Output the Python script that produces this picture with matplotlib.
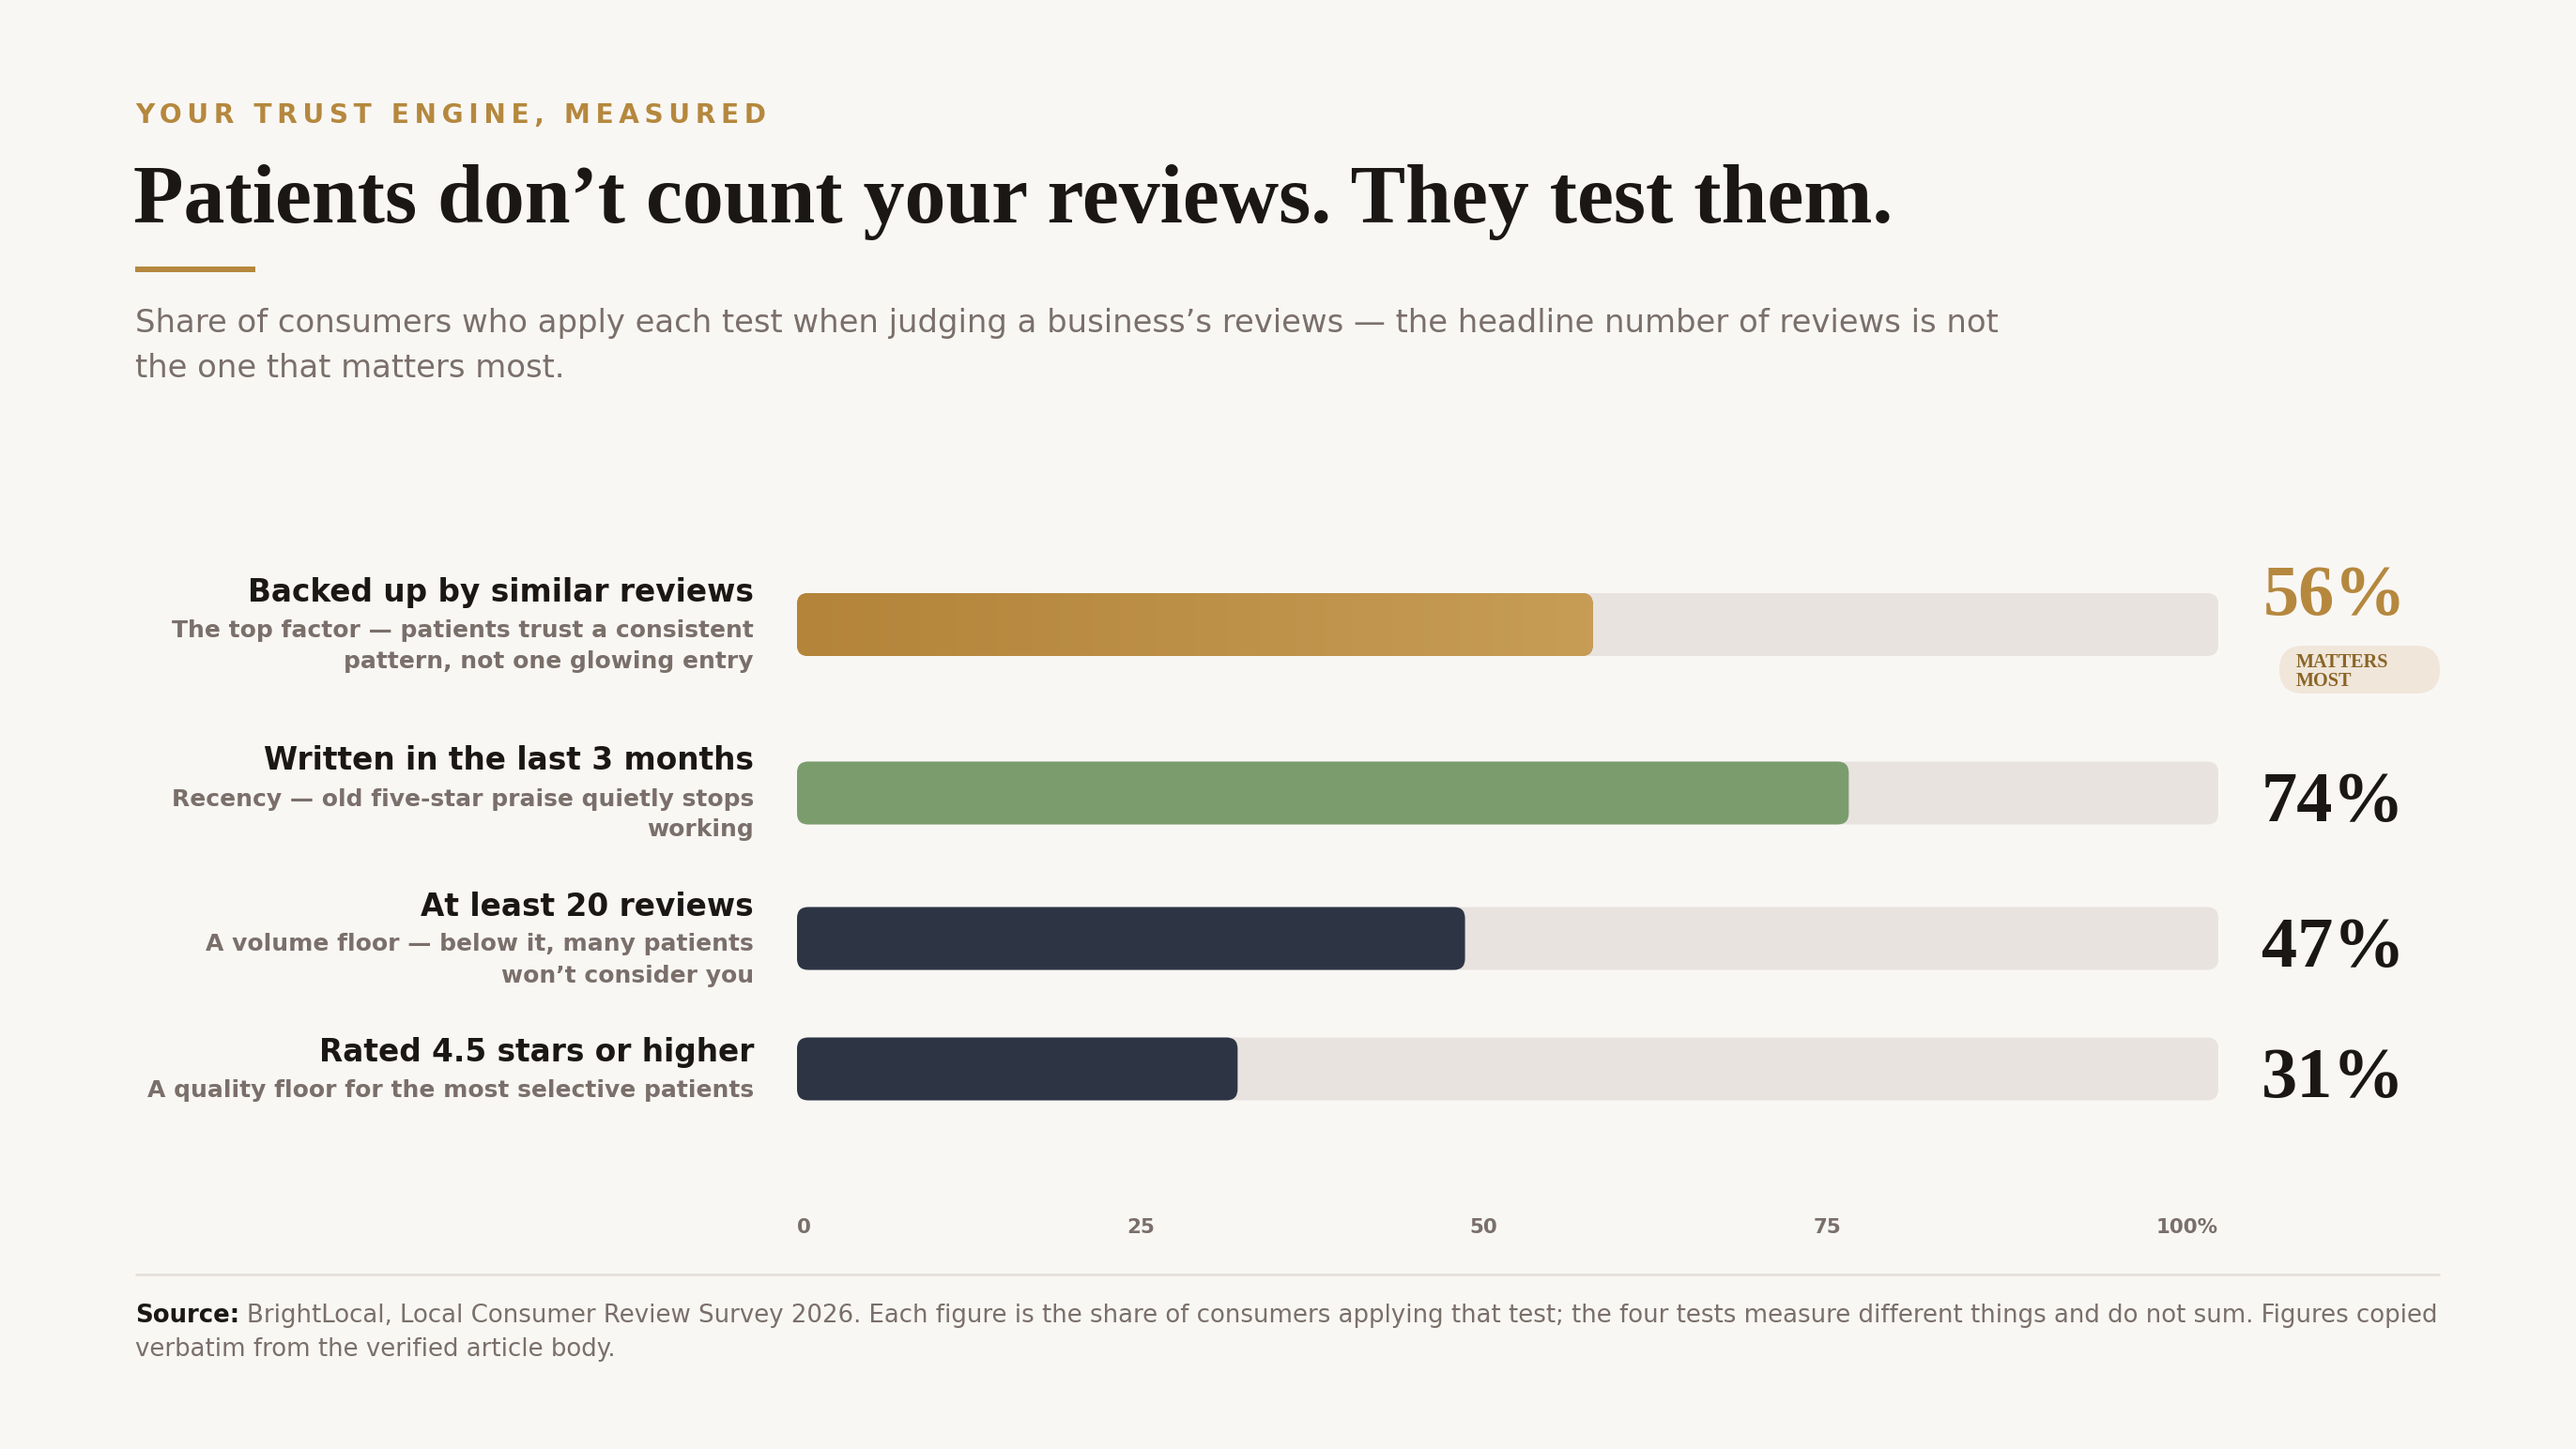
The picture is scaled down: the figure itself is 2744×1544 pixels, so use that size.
import matplotlib
matplotlib.use("Agg")
import matplotlib.pyplot as plt
import numpy as np
from matplotlib.patches import FancyBboxPatch, Rectangle
from matplotlib.colors import LinearSegmentedColormap

# data
labels = ["Backed up by similar reviews",
          "Written in the last 3 months",
          "At least 20 reviews",
          "Rated 4.5 stars or higher"]
sublabels = [["The top factor \u2014 patients trust a consistent", "pattern, not one glowing entry"],
             ["Recency \u2014 old five-star praise quietly stops", "working"],
             ["A volume floor \u2014 below it, many patients", "won\u2019t consider you"],
             ["A quality floor for the most selective patients"]]
values = [56, 74, 47, 31]
tick_vals = [0, 25, 50, 75, 100]
tick_labels = ["0", "25", "50", "75", "100%"]

# style
W, H = 2744, 1544
DPI = 200
bg = "#f9f7f4"
gold = "#b5883e"
dark = "#1a1715"
gray = "#7a6f6a"
track = "#e8e3df"
bar_colors = ["gold", "#7b9d6e", "#2d3545", "#2d3545"]
serif = ["Liberation Serif", "DejaVu Serif"]
sans = ["DejaVu Sans"]

# layout (pixels, top-down)
left = 144
right = 2599
track_x0, track_x1 = 849, 2363
row_centers = [665.5, 845, 1000, 1139]
bar_h = 67
radius = 12

fig = plt.figure(figsize=(W / DPI, H / DPI), dpi=DPI, facecolor=bg)

# layout axes in pixel coordinates
lay = fig.add_axes([0, 0, 1, 1])
lay.set_xlim(0, W)
lay.set_ylim(H, 0)
lay.axis("off")
lay.set_facecolor(bg)

# header
eyebrow = "YOUR TRUST ENGINE, MEASURED"
lay.text(left, 131, "\u2009".join(eyebrow), color=gold, fontsize=10.1,
         fontweight="bold", family=sans, va="baseline", ha="left")
lay.text(left - 2, 237, "Patients don\u2019t count your reviews. They test them.",
         color=dark, fontsize=31.6, fontweight="bold", family=serif,
         va="baseline", ha="left")
lay.add_patch(Rectangle((left, 284), 128, 6, color=gold, lw=0))
lay.text(left, 354, "Share of consumers who apply each test when judging a business\u2019s reviews \u2014 the headline number of reviews is not",
         color=gray, fontsize=12.2, family=sans, va="baseline", ha="left")
lay.text(left, 402, "the one that matters most.",
         color=gray, fontsize=12.2, family=sans, va="baseline", ha="left")

# bars axes: x in percent, y in pixels
ax = fig.add_axes([track_x0 / W, 0, (track_x1 - track_x0) / W, 1])
ax.set_xlim(0, 100)
ax.set_ylim(H, 0)
ax.axis("off")
ax.patch.set_alpha(0)

xpx = (track_x1 - track_x0) / 100.0
r_x = radius / xpx
aspect = radius / r_x

gold_cmap = LinearSegmentedColormap.from_list("g", ["#b3843a", "#c79c55"])

for i, (lab, subs, v, c) in enumerate(zip(labels, sublabels, values, bar_colors)):
    cy = row_centers[i]
    top = cy - bar_h / 2
    bg_bar = FancyBboxPatch((0, top), 100, bar_h,
                            boxstyle="round,pad=0,rounding_size=%f" % r_x,
                            mutation_aspect=aspect, fc=track, ec="none", zorder=1)
    ax.add_patch(bg_bar)
    fg_bar = FancyBboxPatch((0, top), v, bar_h,
                            boxstyle="round,pad=0,rounding_size=%f" % r_x,
                            mutation_aspect=aspect,
                            fc=(gold if c == "gold" else c), ec="none", zorder=2)
    ax.add_patch(fg_bar)
    if c == "gold":
        grad = np.linspace(0, 1, 256).reshape(1, -1)
        im = ax.imshow(grad, extent=(0, v, top + bar_h, top), aspect="auto",
                       cmap=gold_cmap, zorder=3, interpolation="bilinear")
        im.set_clip_path(fg_bar)

    # row labels
    n = len(subs)
    lab_y = cy - 8 - 16.5 * (n - 1)
    lay.text(track_x0 - 46, lab_y, lab, color=dark, fontsize=11.8, fontweight="bold",
             family=sans, ha="right", va="baseline")
    for k, s in enumerate(subs):
        lay.text(track_x0 - 46, lab_y + 38 + 33 * k, s, color=gray, fontsize=9.0,
                 fontweight="bold", family=sans, ha="right", va="baseline")

    # value labels
    if i == 0:
        lay.text(2411, cy - 10.5, "%d%%" % v, color=gold, fontsize=27.5,
                 fontweight="bold", family=serif, ha="left", va="baseline")
        lay.add_patch(FancyBboxPatch((2428, cy + 22.5), 171, 51,
                                     boxstyle="round,pad=0,rounding_size=25.5",
                                     fc="#f0e6da", ec="none"))
        lay.text(2446, cy + 45.5, "MATTERS", color="#8a6526", fontsize=7.3,
                 fontweight="bold", family=serif, ha="left", va="baseline")
        lay.text(2446, cy + 65.5, "MOST", color="#8a6526", fontsize=7.3,
                 fontweight="bold", family=serif, ha="left", va="baseline")
    else:
        lay.text(2409, cy + 30, "%d%%" % v, color=dark, fontsize=27.5,
                 fontweight="bold", family=serif, ha="left", va="baseline")

ax.set_xlim(0, 100)
ax.set_ylim(H, 0)

# tick labels spread like space-between across the track
renderer = fig.canvas.get_renderer()
tick_texts = [ax.text(t, 1314, s, color=gray, fontsize=7.7, fontweight="bold",
                      family=sans, ha="left", va="baseline")
              for t, s in zip(tick_vals, tick_labels)]
widths = [tt.get_window_extent(renderer).width for tt in tick_texts]
gap = ((track_x1 - track_x0) - sum(widths)) / (len(widths) - 1)
pos = 0.0
for tt, w in zip(tick_texts, widths):
    tt.set_x(pos / xpx)
    pos += w + gap

# divider and source
lay.plot([left, right], [1357.5, 1357.5], color="#e6e0db", lw=1.0, solid_capstyle="butt")
src = lay.text(left, 1409, "Source:", color=dark, fontsize=9.35, fontweight="bold",
               family=sans, ha="left", va="baseline")
sw = src.get_window_extent(renderer).width
lay.text(left + sw + 8, 1409,
         "BrightLocal, Local Consumer Review Survey 2026. Each figure is the share of consumers applying that test; the four tests measure different things and do not sum. Figures copied",
         color=gray, fontsize=9.35, family=sans, ha="left", va="baseline")
lay.text(left, 1445, "verbatim from the verified article body.",
         color=gray, fontsize=9.35, family=sans, ha="left", va="baseline")

fig.savefig("out.png", dpi=DPI, facecolor=bg)
